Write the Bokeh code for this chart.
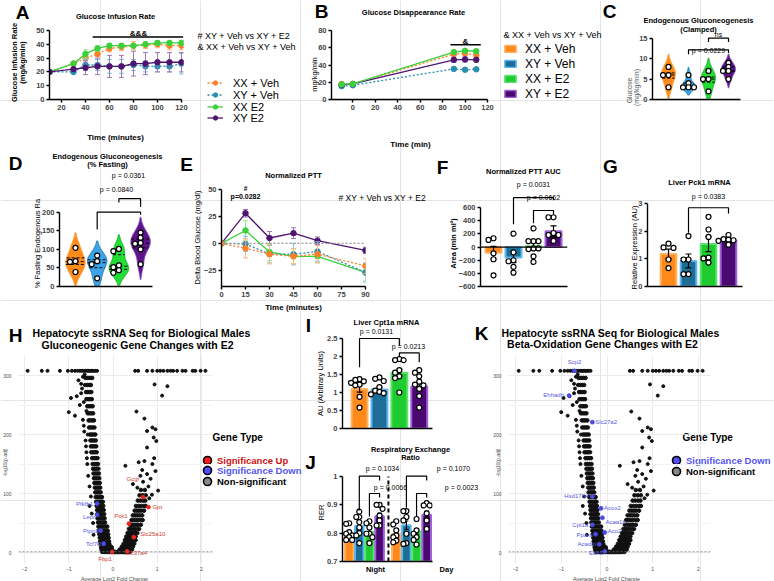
import numpy as np
from bokeh.plotting import figure
from bokeh.layouts import row, column
from bokeh.models import Range1d, FixedTicker, Label, Legend, LegendItem, Span
from bokeh.embed import file_html
from bokeh.resources import INLINE

FONT = "Liberation Sans"

# ------------------------------------------------------------------ data
groups = ["XX + Veh", "XY + Veh", "XX + E2", "XY + E2"]
a_legend_names = ["XX + Veh", "XY + Veh", "XX E2", "XY E2"]

# A  Glucose infusion rate
a_time = [10, 30, 40, 50, 60, 70, 80, 90, 100, 110, 120]
a_xx_veh = [20, 26, 30, 33, 37, 38, 39, 39.5, 40, 39, 39]
a_xx_veh_err = [0, 1.5, 2, 2, 2.5, 2.5, 3, 2.5, 2.5, 3, 3]
a_xy_veh = [20, 20, 25, 25, 24, 24, 25, 24, 24, 24, 26]
a_xy_veh_err = [0, 1.5, 4, 4, 5, 5, 4, 4, 4, 4, 7.5]
a_xx_e2 = [20, 26, 33, 37, 39, 39, 39, 40, 41, 41, 41]
a_xx_e2_err = [0, 1, 3, 2, 1.5, 1.5, 1.5, 1.5, 1.5, 1.5, 1.5]
a_xy_e2 = [20, 22, 23, 24, 24, 24, 26, 26, 27, 27, 27]
a_xy_e2_err = [0, 1.5, 5, 6, 8, 8, 9, 8, 7, 7, 7]

# B  Glucose disappearance rate
b_time = [-10, 0, 90, 100, 110]
b_xx_veh = [18, 18, 52.5, 53.5, 51.5]
b_xx_veh_err = [1, 1, 2, 2, 2]
b_xy_veh = [15.5, 16.5, 35.5, 34.5, 35]
b_xy_veh_err = [1, 1, 2, 1.5, 1.5]
b_xx_e2 = [17.5, 18, 55, 56.5, 56]
b_xx_e2_err = [1, 1, 1.5, 1.5, 2]
b_xy_e2 = [17, 18, 46, 46.5, 46]
b_xy_e2_err = [1, 1, 3, 3, 2.5]

# C  Endogenous gluconeogenesis (clamped)
c_xx_veh = [8, 6, 6, 3]
c_xy_veh = [6, 4, 3, 3, 3]
c_xx_e2 = [7, 5, 5, 2]
c_xy_e2 = [9, 8, 7, 7, 5]

# D  Endogenous gluconeogenesis (% fasting)
d_xx_veh = [104, 68, 66, 39]
d_xy_veh = [83, 68, 60, 22]
d_xx_e2 = [101, 95, 57, 52, 44, 37]
d_xy_e2 = [145, 131, 117, 115, 100, 60]

# E  Normalized PTT
e_time = [0, 15, 30, 45, 60, 90]
e_xx_veh = [0, -4.5, -10, -12, -10, -21]
e_xx_veh_err = [0, 9, 9, 7, 8, 7]
e_xy_veh = [0, -0.5, -10, -10, -7.5, -27]
e_xy_veh_err = [0, 7, 8, 10, 9, 9]
e_xx_e2 = [0, 12, -8, -12, -12, -27]
e_xx_e2_err = [0, 9, 8, 7, 6, 8]
e_xy_e2 = [0, 28, 5, 9.5, 2.5, -6.5]
e_xy_e2_err = [0, 3.5, 6, 5, 3.5, 3]

# F  Normalized PTT AUC
f_means = [-85, -160, 12, 240]
f_sem = [95, 75, 55, 85]
f_xx_veh = [135, 110, -95, -185, -430]
f_xy_veh = [205, -80, -200, -215, -300, -390]
f_xx_e2 = [285, 90, 90, 90, -20, -30, -20, -140, -225]
f_xy_e2 = [455, 455, 215, 185, 185, 95]

# G  Liver Pck1 mRNA
g_means = [1.18, 0.93, 1.54, 1.67]
g_sem = [0.18, 0.25, 0.27, 0.08]
g_xx_veh = [1.56, 1.42, 1.40, 0.98, 0.67]
g_xy_veh = [1.83, 0.98, 0.98, 0.45, 0.45]
g_xx_e2 = [2.53, 2.07, 1.80, 1.05, 1.02, 0.87]
g_xy_e2 = [1.87, 1.72, 1.70, 1.68, 1.66, 1.52]

# I  Liver Cpt1a mRNA
i_means = [1.10, 1.08, 1.55, 1.17]
i_sem = [0.09, 0.06, 0.09, 0.10]
i_xx_veh = [1.37, 1.35, 1.31, 1.27, 1.22, 1.20, 0.88, 0.58]
i_xy_veh = [1.42, 1.38, 1.32, 1.15, 1.05, 1.02, 0.98, 0.95]
i_xx_e2 = [1.93, 1.90, 1.90, 1.62, 1.55, 1.45, 1.40, 1.00]
i_xy_e2 = [1.62, 1.55, 1.45, 1.30, 1.22, 1.20, 1.10, 0.90, 0.58]

# J  Respiratory exchange ratio
j_periods = ["Night", "Day"]
j_night_means = [0.795, 0.825, 0.805, 0.860]
j_night_sem = [0.008, 0.014, 0.009, 0.011]
j_day_means = [0.797, 0.828, 0.806, 0.865]
j_day_sem = [0.009, 0.015, 0.010, 0.013]
j_night_pts = [
    [0.835, 0.833, 0.804, 0.798, 0.792, 0.786, 0.776, 0.776],
    [0.876, 0.857, 0.857, 0.839, 0.820, 0.800, 0.792, 0.765],
    [0.842, 0.835, 0.820, 0.798, 0.798, 0.786, 0.765],
    [0.900, 0.900, 0.886, 0.862, 0.845, 0.827, 0.827],
]
j_day_pts = [
    [0.842, 0.831, 0.810, 0.792, 0.786, 0.774, 0.768],
    [0.878, 0.878, 0.857, 0.845, 0.798, 0.765, 0.762],
    [0.850, 0.810, 0.798, 0.786, 0.776, 0.760],
    [0.906, 0.898, 0.898, 0.870, 0.845, 0.815],
]

# H / K  volcano (same hepatocyte data set): log2 fold change vs -log10(p.adj)
vol_left_levels = [
    (1, [-0.24, -0.20, -0.16, -0.12, -0.08, -0.04, 0.00, 0.04]),
    (5, [-0.26, -0.22, -0.18, -0.14, -0.10, -0.06, -0.02]),
    (9, [-0.27, -0.23, -0.19, -0.15, -0.11, -0.07, -0.03]),
    (14, [-0.28, -0.24, -0.20, -0.16, -0.12, -0.08]),
    (19, [-0.29, -0.25, -0.21, -0.17, -0.13, -0.09]),
    (25, [-0.30, -0.26, -0.22, -0.18, -0.14, -0.10]),
    (31, [-0.31, -0.27, -0.23, -0.19, -0.15, -0.11]),
    (37, [-0.32, -0.28, -0.24, -0.20, -0.16, -0.12]),
    (44, [-0.33, -0.29, -0.25, -0.21, -0.17, -0.13]),
    (51, [-0.34, -0.30, -0.26, -0.22, -0.18]),
    (58, [-0.35, -0.31, -0.27, -0.23, -0.19]),
    (65, [-0.36, -0.32, -0.28, -0.24, -0.20]),
    (72, [-0.36, -0.32, -0.28, -0.24, -0.21]),
    (79, [-0.37, -0.33, -0.29, -0.25, -0.22]),
    (86, [-0.38, -0.34, -0.30, -0.26, -0.23]),
    (94, [-0.39, -0.35, -0.31, -0.27, -0.25]),
    (102, [-0.40, -0.36, -0.32, -0.28]),
    (110, [-0.41, -0.37, -0.33, -0.29]),
    (118, [-0.42, -0.38, -0.34, -0.30]),
    (126, [-0.43, -0.39, -0.35, -0.31]),
    (134, [-0.44, -0.40, -0.36, -0.32]),
    (142, [-0.45, -0.41, -0.37, -0.33]),
    (150, [-0.46, -0.42, -0.38, -0.34]),
    (160, [-0.47, -0.43, -0.39, -0.35]),
    (170, [-0.49, -0.45, -0.41, -0.37]),
    (180, [-0.50, -0.46, -0.42, -0.38]),
    (190, [-0.51, -0.47, -0.43, -0.39]),
    (200, [-0.52, -0.48, -0.44, -0.40]),
    (212, [-0.54, -0.50, -0.46, -0.42]),
    (224, [-0.55, -0.51, -0.47, -0.43]),
    (236, [-0.57, -0.53, -0.49, -0.45]),
    (248, [-0.58, -0.54, -0.50, -0.46]),
    (260, [-0.60, -0.56, -0.52, -0.48]),
    (272, [-0.61, -0.57, -0.53, -0.49]),
    (284, [-0.63, -0.58, -0.54, -0.50]),
    (296, [-0.62, -0.57, -0.52, -0.47]),
]
vol_right_levels = [
    (1, [0.06, 0.10, 0.14, 0.18, 0.22, 0.26, 0.30, 0.34, 0.38]),
    (5, [0.15, 0.19, 0.23, 0.27, 0.31, 0.35, 0.39, 0.43]),
    (10, [0.20, 0.24, 0.28, 0.32, 0.36, 0.40, 0.45]),
    (15, [0.24, 0.28, 0.32, 0.36, 0.40, 0.44, 0.48]),
    (21, [0.27, 0.31, 0.35, 0.39, 0.43, 0.47, 0.51]),
    (27, [0.30, 0.34, 0.38, 0.42, 0.46, 0.51]),
    (33, [0.33, 0.37, 0.41, 0.45, 0.49, 0.55]),
    (40, [0.36, 0.40, 0.44, 0.49, 0.53, 0.59]),
    (47, [0.39, 0.43, 0.48, 0.53, 0.57, 0.63]),
    (55, [0.42, 0.46, 0.51, 0.56, 0.62, 0.67]),
    (63, [0.45, 0.50, 0.55, 0.60, 0.66]),
    (71, [0.49, 0.54, 0.59, 0.64, 0.70]),
    (79, [0.52, 0.58, 0.64, 0.70, 0.74]),
    (88, [0.56, 0.62, 0.68, 0.73]),
    (97, [0.60, 0.67, 0.74]),
    (106, [0.63, 0.72]),
]
vol_left_sparse_x = [-1.00, -0.86, -0.95, -0.82, -0.75, -0.70, -0.68, -0.65, -0.62, -0.60, -0.58, -0.56,
                     -0.53, -0.50, -0.48, -0.45, -0.60, -0.66, -0.72, -0.78, -0.53, -0.44, -0.57,
                     -0.68, -0.64, -0.72, -0.66, -0.61, -0.59]
vol_left_sparse_y = [238, 232, 262, 265, 250, 278, 225, 205, 190, 170, 150, 130,
                     79, 95, 66, 50, 240, 255, 286, 292, 112, 30, 200,
                     298, 302, 270, 215, 180, 160]
vol_right_sparse_x = [0.53, 0.71, 0.77, 0.89, 0.96, 0.98, 0.92, 0.77, 0.58, 0.71, 0.89, 0.93, 0.96, 1.02,
                      0.28, 0.77, 0.45, 0.55, 0.68, 0.62, 0.85, 0.94, 1.23, 1.11, 0.80, 0.82, 0.88, 0.66]
vol_right_sparse_y = [239, 227, 206, 212, 209, 189, 195, 178, 153, 155, 150, 160, 138, 105,
                      147, 133, 116, 110, 120, 130, 125, 285, 282, 266, 112, 92, 98, 140]
vol_top_x = [-1.93, -1.61, -1.48, -1.20, -1.02, -0.93, -0.86, -0.80, -0.75, -0.70, -0.66, -0.62, -0.58,
             -0.55, -0.52, -0.49, -0.46, -0.43, -0.40, -0.36, 0.50, 0.57, 0.77, 0.89, 1.00, 1.07, 1.14,
             1.23, 1.30, 1.36, 1.45, 1.57, 1.64, 1.80, 1.86, 1.98, 2.09]
vol_top_y = 308
vol_ns_x = [-0.06, -0.02, 0.02, 0.06, 0.10, 0.14, 0.18, 0.22, 0.26, 0.30]
vol_ns_y = 0.4

h_up_genes = ["Gcgr", "Gpt", "Pck1", "Slc25a10", "Slc37a4", "Fbp1"]
h_up_x = [0.68, 0.80, 0.36, 0.47, 0.32, -0.02]
h_up_y = [94, 77, 49, 26, 2, 1]
h_down_genes = ["Pfkfb1", "Lepr", "Ptpn2", "Tcf7l2"]
h_down_x = [-0.36, -0.36, -0.28, -0.21]
h_down_y = [83, 64, 37, 15]
k_down_genes = ["Scp2", "Ehhadh", "Slc27a2", "Hsd17b4", "Acox2", "Acaa1b", "Cpt1a", "Aco2", "Ppara", "Acadm", "Ech1"]
k_down_x = [-0.71, -0.83, -0.32, -0.32, -0.13, -0.10, -0.32, -0.05, -0.25, -0.17, -0.05]
k_down_y = [308, 266, 221, 95, 75, 59, 47, 34, 31, 14, 2]

# ------------------------------------------------------------------ styles
LINE_COL = ["#FF7F27", "#2A8CB0", "#3AD13A", "#4E1470"]
ERR_COL = ["#FFB27A", "#7FC3DA", "#8DE88D", "#9A77B0"]
DASH = ["2 2", "2 2", "solid", "solid"]
BAR_FILL = ["#FF8A1C", "#1D6E96", "#1FCC2F", "#4B0870"]
BAR_LINE = ["#FFB060", "#5DB7F0", "#5BE36F", "#A060D8"]
VIO_FILL = ["#FF8C1A", "#3BA3E8", "#22DD33", "#5E1487"]
VIO_LINE = ["#FFA040", "#1F7FB0", "#18B028", "#8A4CC0"]

h_up_lab = [(-10, 18, "center"), (4, 0, "left"), (-8, 8, "center"), (19, 3, "center"), (9, -2, "center"), (-7, -7, "center")]
h_down_lab = [(-4, 0, "right"), (-2, -2, "right"), (-2, 0, "right"), (-2, 0, "right")]
k_down_lab = [(0, 9, "center"), (-5, 1, "right"), (3, 0, "left"), (-4, 0, "right"), (3, 0, "left"), (3, -4, "left"),
              (-4, 0, "right"), (3, 1, "left"), (-3, -1, "right"), (-3, 0, "right"), (-2, -2, "right")]

# ------------------------------------------------------------------ background page (all free texts & legends)
W, H = 774, 581
OFF = -1000  # legend-key renderers sit outside the page so that only their legend samples show
bg = figure(width=W, height=H, x_range=Range1d(0, W), y_range=Range1d(H, 0), x_axis_location=None,
            y_axis_location=None, min_border=0, toolbar_location=None, tools="", output_backend="svg", title=None)
bg.outline_line_color = None
bg.background_fill_color = "white"
bg.border_fill_color = "white"


def txt(px, py, s, size=7.5, bold=False, color="black", align="center", angle=0.0):
    bg.add_layout(Label(x=px, y=py, text=s, text_font=FONT, text_font_size=f"{size}px",
                        text_font_style="bold" if bold else "normal", text_color=color,
                        text_align=align, text_baseline="middle", angle=angle))


def letter(px, py, s):
    txt(px, py, s, size=19, bold=True)


def leg_row(x_left, y_center, label, renderers, gw, gh, rowh, standoff, size="12px", bold=False, color="black"):
    bg.add_layout(Legend(items=[LegendItem(label=label, renderers=renderers)],
                         location=(x_left, H - (y_center + rowh / 2.0)), glyph_width=gw, glyph_height=gh,
                         label_height=rowh, label_width=10, spacing=0, padding=0, margin=0,
                         label_standoff=standoff, border_line_color=None, background_fill_alpha=0,
                         label_text_font=FONT, label_text_font_size=size,
                         label_text_font_style="bold" if bold else "normal", label_text_color=color))


# ------------------------------------------------------------------ helpers
def mkfig(w, h, bl, br, bt, bb, xr, yr):
    p = figure(width=w, height=h, x_range=Range1d(*xr), y_range=Range1d(*yr),
               min_border_left=bl, min_border_right=br, min_border_top=bt, min_border_bottom=bb,
               toolbar_location=None, tools="", output_backend="svg", title=None)
    p.outline_line_color = None
    p.background_fill_alpha = 0
    p.border_fill_alpha = 0
    for g in list(p.xgrid) + list(p.ygrid):
        g.grid_line_color = None
    for ax in list(p.xaxis) + list(p.yaxis):
        ax.axis_line_width = 1.4
        ax.axis_line_color = "black"
        ax.major_tick_line_width = 1.4
        ax.major_tick_in = 0
        ax.major_tick_out = 3
        ax.minor_tick_line_color = None
        ax.major_label_text_font = FONT
        ax.major_label_text_font_style = "bold"
        ax.major_label_text_font_size = "7.5px"
        ax.major_label_standoff = 2
    return p


def errbars(p, x, lo, hi, color, cap_px, xpx, lw=1.0):
    cw = cap_px / xpx / 2.0
    p.segment(x, lo, x, hi, line_color=color, line_width=lw)
    p.segment([a - cw for a in x], hi, [a + cw for a in x], hi, line_color=color, line_width=lw)
    p.segment([a - cw for a in x], lo, [a + cw for a in x], lo, line_color=color, line_width=lw)


def series(p, x, y, err, k, xpx, size=5.5, lw=1.3):
    xs = [a for a, e in zip(x, err) if e > 0]
    lo = [b - e for b, e in zip(y, err) if e > 0]
    hi = [b + e for b, e in zip(y, err) if e > 0]
    errbars(p, xs, lo, hi, ERR_COL[k], 5, xpx)
    p.line(x, y, line_color=LINE_COL[k], line_width=lw, line_dash=DASH[k])
    p.scatter(x, y, size=size, fill_color=LINE_COL[k], line_color=LINE_COL[k])


def swarm(vals, center, ypx, xpx, d=5.5):
    placed, xs = [], []
    for v in vals:
        y = v * ypx
        chosen = 0.0
        for k in (0, -1, 1, -2, 2, -3, 3):
            ox = k * d
            if all((ox - a) ** 2 + (y - b) ** 2 >= (d * 0.95) ** 2 for a, b in placed):
                chosen = ox
                break
        placed.append((chosen, y))
        xs.append(center + chosen / xpx)
    return xs


def points(p, vals, center, ypx, xpx, size=5, d=5.5):
    xs = swarm(vals, center, ypx, xpx, d)
    p.scatter(xs, vals, size=size, fill_color="white", line_color="black", line_width=1.2)


def bars(p, pos, means, sems, pts, ypx, xpx, width, size=5, d=5.5):
    p.vbar(x=pos, top=means, bottom=0, width=width, fill_color=BAR_FILL, line_color=BAR_LINE, line_width=2)
    errbars(p, pos, [m - s for m, s in zip(means, sems)], [m + s for m, s in zip(means, sems)],
            "black", 6, xpx, lw=1.2)
    for c, vals in zip(pos, pts):
        points(p, vals, c, ypx, xpx, size=size, d=d)


def violin(p, center, vals, k, halfw, lo):
    v = np.asarray(vals, float)
    bw = v.std(ddof=1) * len(v) ** (-0.2)
    ys = np.linspace(max(v.min() - 2 * bw, lo), v.max() + 2 * bw, 160)
    dens = np.exp(-0.5 * ((ys[:, None] - v[None, :]) / bw) ** 2).sum(axis=1)
    w = dens / dens.max() * halfw
    p.patch(np.r_[center - w, (center + w)[::-1]], np.r_[ys, ys[::-1]],
            fill_color=VIO_FILL[k], line_color=VIO_LINE[k], line_width=1)
    q1, med, q3 = np.percentile(v, [25, 50, 75])
    for q in (q1, med, q3):
        wq = float(np.interp(q, ys, w))
        p.line([center - wq, center + wq], [q, q], line_color="black", line_width=1, line_dash="3 2")


def bracket(p, x0, x1, ytop, y0, y1):
    p.line([x0, x0, x1, x1], [y0, ytop, ytop, y1], line_color="black", line_width=1.2)


def no_xticks(p):
    p.xaxis.ticker = FixedTicker(ticks=[])
    p.xaxis.major_label_text_font_size = "0px"
    p.xaxis.major_label_standoff = 0


# ------------------------------------------------------------------ A
pA = mkfig(308, 149, 49, 125, 30, 50, (10, 121.7), (0, 50))
pA.xaxis.ticker = FixedTicker(ticks=[20, 40, 60, 80, 100, 120])
pA.yaxis.ticker = FixedTicker(ticks=[0, 10, 20, 30, 40, 50])
pA.xaxis.bounds = (10, 120)
a_sets = [(a_xx_veh, a_xx_veh_err), (a_xy_veh, a_xy_veh_err), (a_xx_e2, a_xx_e2_err), (a_xy_e2, a_xy_e2_err)]
for k, (y, e) in enumerate(a_sets):
    series(pA, a_time, y, e, k, 1.2)
pA.line([46, 121.5], [45.3, 45.3], line_color="black", line_width=1.3)
letter(22, 12, "A")
txt(115, 16, "Glucose Infusion Rate", bold=True)
txt(14, 62, "Glucose Infusion Rate", bold=True, angle=np.pi / 2)
txt(22, 62, "(mg/kg/min)", bold=True, angle=np.pi / 2)
txt(115, 137, "Time (minutes)", size=8, bold=True)
txt(138, 33, "&&&", size=8, bold=True)
txt(197, 35, "# XY + Veh vs XY + E2", size=9, align="left")
txt(197, 46, "& XX + Veh vs XY + Veh", size=9, align="left")
for k, (name, yc) in enumerate(zip(a_legend_names, [83, 95, 107, 118])):
    lr = bg.line(x=[OFF, OFF + 1], y=[OFF, OFF], line_color=LINE_COL[k], line_width=1.3, line_dash=DASH[k])
    sr = bg.scatter(x=[OFF], y=[OFF], size=6, fill_color=LINE_COL[k], line_color=LINE_COL[k])
    leg_row(207, yc, name, [lr, sr], 16, 11, 11, 10, size="11px")

# ------------------------------------------------------------------ B
pB = mkfig(293, 149, 23, 114, 26, 26, (-19, 120), (0, 80))
pB.xaxis.ticker = FixedTicker(ticks=[0, 20, 40, 60, 80, 100, 120])
pB.yaxis.ticker = FixedTicker(ticks=[0, 20, 40, 60, 80])
b_sets = [(b_xx_veh, b_xx_veh_err), (b_xy_veh, b_xy_veh_err), (b_xx_e2, b_xx_e2_err), (b_xy_e2, b_xy_e2_err)]
for k in (1, 0, 3, 2):
    series(pB, b_time, b_sets[k][0], b_sets[k][1], k, 1.122)
pB.line([87, 114], [63.5, 63.5], line_color="black", line_width=1.3)
letter(321, 11, "B")
txt(413, 12, "Glucose Disappearance Rate", bold=True)
txt(314, 74, "mg/kg/min", angle=np.pi / 2)
txt(410, 144, "Time (min)", size=8, bold=True)
txt(465, 41, "&", size=8, bold=True)
txt(503, 34, "& XX + Veh vs XY + Veh", size=9, align="left")
for k, (name, yc) in enumerate(zip(groups, [51, 66, 81, 96])):
    qr = bg.quad(left=[OFF], right=[OFF + 1], top=[OFF], bottom=[OFF + 1], fill_color=BAR_FILL[k],
                 line_color=BAR_LINE[k], line_width=1.5)
    leg_row(503, yc, name, [qr], 14, 9, 9, 8, size="12px")

# ------------------------------------------------------------------ C
pC = mkfig(173, 149, 51, 34, 30, 23, (0.2, 4.6), (0, 16.93))
no_xticks(pC)
pC.yaxis.ticker = FixedTicker(ticks=[0, 5, 10, 15])
pC.yaxis.bounds = (0, 15)
c_sets = [c_xx_veh, c_xy_veh, c_xx_e2, c_xy_e2]
for k, vals in enumerate(c_sets):
    violin(pC, k + 1, vals, k, 0.35, 0)
for k, vals in enumerate(c_sets):
    points(pC, vals, k + 1, 5.67, 20, size=5)
bracket(pC, 2, 4, 12.2, 11.1, 11.4)
bracket(pC, 3, 4, 15.05, 14.1, 14.1)
letter(609, 11, "C")
txt(698, 20, "Endogenous Gluconeogenesis", bold=True)
txt(698, 29, "(Clamped)", bold=True)
txt(629, 90, "Glucose", size=7, color="#555555", angle=np.pi / 2)
txt(636, 87, "(mg/kg/min)", size=7, color="#555555", angle=np.pi / 2)
txt(708, 50, "p = 0.0229", size=7)
txt(718, 34, "ns", size=7)

# ------------------------------------------------------------------ D
pD = mkfig(178, 167, 59, 26, 21, 30, (0.263, 4.55), (0, 260.7))
no_xticks(pD)
pD.yaxis.ticker = FixedTicker(ticks=[0, 50, 100, 150, 200])
pD.yaxis.bounds = (0, 200)
d_sets = [d_xx_veh, d_xy_veh, d_xx_e2, d_xy_e2]
for k, vals in enumerate(d_sets):
    violin(pD, k + 1, vals, k, 0.45, 0)
for k, vals in enumerate(d_sets):
    points(pD, vals, k + 1, 0.445, 21.7, size=5)
bracket(pD, 2, 4, 200, 153, 193)
bracket(pD, 3, 4, 236, 226, 214)
letter(15, 163, "D")
txt(107, 156, "Endogenous Gluconeogenesis", bold=True)
txt(107, 164, "(% Fasting)", bold=True)
txt(37, 243, "% Fasting Endogenous Ra", size=7.5, angle=np.pi / 2)
txt(116, 189, "p = 0.0840", size=7)
txt(128, 175, "p = 0.0361", size=7)

# ------------------------------------------------------------------ E
pE = mkfig(254, 167, 43, 67, 40, 30, (0, 90), (-40, 50))
pE.xaxis.ticker = FixedTicker(ticks=[0, 15, 30, 45, 60, 75, 90])
pE.yaxis.ticker = FixedTicker(ticks=[-25, 0, 25, 50])
pE.add_layout(Span(location=0, dimension="width", line_color="#999999", line_width=1.3, line_dash="2 2"))
e_sets = [(e_xx_veh, e_xx_veh_err), (e_xy_veh, e_xy_veh_err), (e_xx_e2, e_xx_e2_err), (e_xy_e2, e_xy_e2_err)]
for k in (3, 2, 1, 0):
    series(pE, e_time, e_sets[k][0], e_sets[k][1], k, 1.6)
letter(186, 164, "E")
txt(293, 175, "Normalized PTT", bold=True)
txt(197, 237, "Delta Blood Glucose (mg/dl)", size=7.5, angle=np.pi / 2)
txt(293, 307, "Time (minutes)", size=8, bold=True)
txt(245, 188, "#", size=6.5, bold=True)
txt(245, 196, "p=0.0282", size=7, bold=True)
txt(338, 197, "# XY + Veh vs XY + E2", size=8.5, align="left")

# ------------------------------------------------------------------ F
pF = mkfig(169, 167, 48, 34, 31, 30, (0.35, 4.7), (-600, 878))
no_xticks(pF)
pF.yaxis.ticker = FixedTicker(ticks=[-600, -400, -200, 0, 200, 400, 600])
pF.yaxis.bounds = (-600, 600)
bars(pF, [1, 2, 3, 4], f_means, f_sem, [f_xx_veh, f_xy_veh, f_xx_e2, f_xy_e2], 0.0717, 20, 0.8, size=5, d=5)
pF.add_layout(Span(location=0, dimension="width", line_color="black", line_width=1.4))
bracket(pF, 2, 4, 753, 349, 715)
bracket(pF, 3, 4, 558, 363, 502)
letter(442, 167, "F")
txt(523, 171, "Normalized PTT AUC", bold=True)
txt(453, 243, "Area (min ml²)", size=7.5, bold=True, angle=np.pi / 2)
txt(533, 184, "p = 0.0031", size=7)
txt(543, 197, "p = 0.0662", size=7)

# ------------------------------------------------------------------ G
pG = mkfig(173, 167, 46, 32, 36, 30, (-0.05, 4.7), (0, 3.523))
no_xticks(pG)
pG.yaxis.ticker = FixedTicker(ticks=[0, 1, 2, 3])
pG.yaxis.bounds = (0, 3)
bars(pG, [1, 2, 3, 4], g_means, g_sem, [g_xx_veh, g_xy_veh, g_xx_e2, g_xy_e2], 28.67, 20, 0.78, size=5, d=5)
bracket(pG, 2, 4, 2.86, 1.95, 2.65)
letter(610, 166, "G")
txt(699, 182, "Liver Pck1 mRNA", bold=True)
txt(634, 247, "Relative Expression (AU)", size=7.5, angle=np.pi / 2)
txt(708, 196, "p = 0.0383", size=7)


# ------------------------------------------------------------------ volcano helpers
def volcano(w, bl, br, xr):
    p = mkfig(w, 265, bl, br, 39, 18, xr, (-18.6, 334))
    p.xaxis.ticker = FixedTicker(ticks=[-2, -1, 0, 1, 2])
    p.yaxis.ticker = FixedTicker(ticks=[0, 100, 200, 300], minor_ticks=[50, 150, 250])
    for g in list(p.xgrid) + list(p.ygrid):
        g.grid_line_color = "#E6E6E6"
        g.grid_line_width = 0.8
        g.minor_grid_line_color = "#F3F3F3"
        g.bounds = (-18.6, 322) if g.dimension == 0 else (-2.2, 2.3)
    for ax in list(p.xaxis) + list(p.yaxis):
        ax.axis_line_color = None
        ax.major_tick_line_color = None
        ax.major_tick_out = 0
        ax.major_label_text_font_style = "normal"
        ax.major_label_text_font_size = "5px"
        ax.major_label_text_color = "#4D4D4D"
        ax.major_label_standoff = 3
    p.add_layout(Span(location=1.3, dimension="width", line_color="#777777", line_width=0.8, line_dash="2 2"))
    lx = [x for _, xs in vol_left_levels for x in xs]
    ly = [y for y, xs in vol_left_levels for _ in xs]
    rxs = [x for _, xs in vol_right_levels for x in xs]
    rys = [y for y, xs in vol_right_levels for _ in xs]
    p.scatter(vol_ns_x, [vol_ns_y] * len(vol_ns_x), size=3.5, color="#BBBBBB")
    p.scatter(lx + rxs, ly + rys, size=3.6, color="#111111")
    sx = vol_left_sparse_x + vol_right_sparse_x + vol_top_x
    sy = vol_left_sparse_y + vol_right_sparse_y + [vol_top_y] * len(vol_top_x)
    p.scatter(sx, sy, size=3.0, color="#111111")
    return p


def genes(p, names, xs, ys, labs, pcol, tcol):
    p.scatter(xs, ys, size=3.8, color=pcol)
    for n, x, y, (dx, dy, al) in zip(names, xs, ys, labs):
        p.add_layout(Label(x=x, y=y, text=n, x_offset=dx, y_offset=dy, text_align=al, text_baseline="middle",
                           text_font=FONT, text_font_size="6px", text_color=tcol))


def vlegend(cx, cy, label, fill, tcol):
    r = bg.scatter(x=[OFF], y=[OFF], size=8, fill_color=fill, line_color="black", line_width=1.6)
    leg_row(cx - 10, cy, label, [r], 20, 20, 20, -4, size="9.5px", bold=True, color=tcol)


# ------------------------------------------------------------------ H
pH = volcano(303, 18, 91, (-2.136, 2.249))
genes(pH, h_up_genes, h_up_x, h_up_y, h_up_lab, "#E8281E", "#CC3B30")
genes(pH, h_down_genes, h_down_x, h_down_y, h_down_lab, "#4B4BE8", "#5A5AE6")
letter(15, 335, "H")
txt(141, 332, "Hepatocyte ssRNA Seq for Biological Males", size=10.5, bold=True)
txt(137, 344, "Gluconeogenic Gene Changes with E2", size=10.5, bold=True)
txt(4, 462, "-log10(p.adj)", size=5, color="#4D4D4D", angle=np.pi / 2)
txt(114, 578, "Average Log2 Fold Change", size=5.5, color="#4D4D4D")
txt(212, 437, "Gene Type", size=10, bold=True, align="left")
vlegend(207, 460, "Significance Up", "#FF1A1A", "#CC1111")
vlegend(207, 470, "Significance Down", "#5050FF", "#5555EE")
vlegend(207, 481, "Non-significant", "#888888", "black")

# ------------------------------------------------------------------ I
pI = mkfig(174, 121, 34, 45, 14, 9, (0.143, 4.667), (0, 2.722))
no_xticks(pI)
pI.xaxis.major_tick_out = 0
pI.yaxis.ticker = FixedTicker(ticks=[0, 0.5, 1.0, 1.5, 2.0, 2.5])
pI.yaxis.bounds = (0, 2.5)
bars(pI, [1, 2, 3, 4], i_means, i_sem, [i_xx_veh, i_xy_veh, i_xx_e2, i_xy_e2], 36, 21, 0.8, size=5, d=4.5)
bracket(pI, 1, 3, 2.5, 1.7, 2.3)
bracket(pI, 3, 4, 2.1, 1.98, 1.84)
letter(308, 325, "I")
txt(386, 322, "Liver Cpt1a mRNA", bold=True)
txt(320, 383, "AU (Arbitrary Units)", size=7.5, angle=np.pi / 2)
txt(376, 331, "p = 0.0131", size=7)
txt(408, 346, "p = 0.0213", size=7)

# ------------------------------------------------------------------ J
pJ = mkfig(174, 144, 39, 0, 23, 20, (0.342, 9.224), (0.7, 1.0565))
no_xticks(pJ)
pJ.yaxis.ticker = FixedTicker(ticks=[0.7, 0.8, 0.9, 1.0])
pJ.yaxis.bounds = (0.7, 1.0)
j_night_pos = [1, 2, 3, 4]
j_day_pos = [5.65, 6.65, 7.65, 8.65]
jm = j_night_means + j_day_means
js = j_night_sem + j_day_sem
pJ.vbar(x=j_night_pos + j_day_pos, top=jm, bottom=0.7, width=0.85,
        fill_color=BAR_FILL * 2, line_color=BAR_LINE * 2, line_width=2)
errbars(pJ, j_night_pos + j_day_pos, [m - s for m, s in zip(jm, js)], [m + s for m, s in zip(jm, js)], "black", 6, 15.2, lw=1.2)
for c, vals in zip(j_night_pos + j_day_pos, j_night_pts + j_day_pts):
    points(pJ, vals, c, 283.3, 15.2, size=5, d=4.5)
sep = (j_night_pos[-1] + j_day_pos[0]) / 2 + 0.05
pJ.line([sep, sep], [0.7, 1.0], line_color="black", line_width=2, line_dash="4 3")
bracket(pJ, 2, 4, 1.001, 0.88, 0.986)
bracket(pJ, 3, 4, 0.94, 0.859, 0.926)
bracket(pJ, 6.65, 8.65, 1.001, 0.89, 0.986)
bracket(pJ, 7.65, 8.65, 0.94, 0.86, 0.926)
letter(310, 462, "J")
txt(410, 449, "Respiratory Exchange", bold=True)
txt(410, 457, "Ratio", bold=True)
txt(321, 512, "RER", size=7.5, angle=np.pi / 2)
txt(375, 569, j_periods[0], size=7.5, bold=True)
txt(446, 569, j_periods[1], size=7.5, bold=True)
txt(382, 468, "p = 0.1034", size=7)
txt(390, 487, "p = 0.0066", size=7)
txt(453, 468, "p = 0.1070", size=7)
txt(461, 487, "p = 0.0023", size=7)

# ------------------------------------------------------------------ K
pK = volcano(297, 31, 64, (-2.153, 2.262))
genes(pK, k_down_genes, k_down_x, k_down_y, k_down_lab, "#4B4BE8", "#5A5AE6")
letter(481, 333, "K")
txt(610, 332, "Hepatocyte ssRNA Seq for Biological Males", size=10.5, bold=True)
txt(602, 343, "Beta-Oxidation Gene Changes with E2", size=10.5, bold=True)
txt(497, 462, "-log10(p.adj)", size=5, color="#4D4D4D", angle=np.pi / 2)
txt(606, 578, "Average Log2 Fold Change", size=5.5, color="#4D4D4D")
txt(682, 437, "Gene Type", size=10, bold=True, align="left")
vlegend(676, 460, "Significance Down", "#5050FF", "#5555EE")
vlegend(676, 471, "Non-significant", "#888888", "black")

panels = column(row(pA, pB, pC), row(pD, pE, pF, pG), row(pH, column(pI, pJ), pK), margin=(-H, 0, 0, 0))
layout = column(bg, panels)
open("out.html", "w").write(file_html(layout, INLINE, title="figure"))
